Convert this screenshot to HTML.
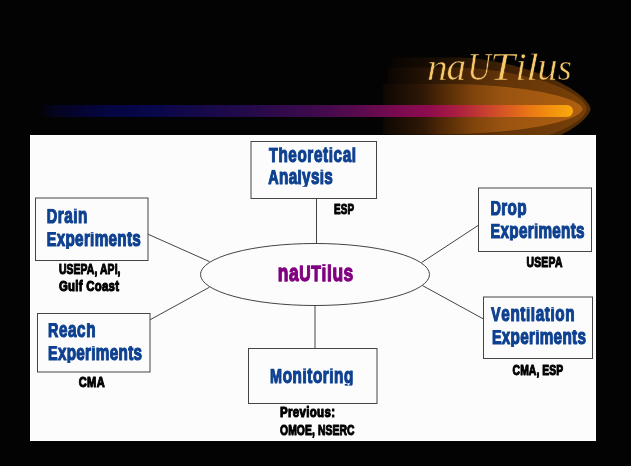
<!DOCTYPE html>
<html><head><meta charset="utf-8">
<style>
html,body{margin:0;padding:0;background:#030303;width:631px;height:466px;overflow:hidden;}
svg{position:absolute;left:0;top:0;display:block;will-change:transform;}
text{font-family:"Liberation Sans",sans-serif;font-weight:bold;}
text.ttl{font-family:"Liberation Serif",serif;font-style:italic;font-weight:normal;}
</style></head>
<body>
<svg width="631" height="466" viewBox="0 0 631 466">
<defs>
<linearGradient id="bar" gradientUnits="userSpaceOnUse" x1="38" y1="0" x2="573" y2="0"><stop offset="0.0000" stop-color="#030303"/><stop offset="0.0318" stop-color="#040420"/><stop offset="0.0785" stop-color="#040432"/><stop offset="0.1346" stop-color="#050542"/><stop offset="0.2093" stop-color="#07074a"/><stop offset="0.2654" stop-color="#100848"/><stop offset="0.3215" stop-color="#18094a"/><stop offset="0.4150" stop-color="#280a4a"/><stop offset="0.5084" stop-color="#3c0a4c"/><stop offset="0.6019" stop-color="#5a0a4e"/><stop offset="0.6766" stop-color="#7c0a50"/><stop offset="0.7327" stop-color="#8e0c4e"/><stop offset="0.7701" stop-color="#a41844"/><stop offset="0.8075" stop-color="#b82c38"/><stop offset="0.8449" stop-color="#cc462c"/><stop offset="0.8822" stop-color="#dc5e20"/><stop offset="0.9196" stop-color="#ea7814"/><stop offset="0.9570" stop-color="#f29010"/><stop offset="1.0000" stop-color="#f8aa0c"/></linearGradient>
<linearGradient id="g0" gradientUnits="userSpaceOnUse" x1="383" y1="0" x2="585" y2="0"><stop offset="0" stop-color="#050302"/><stop offset="0.3" stop-color="#1c0f03"/><stop offset="0.45" stop-color="#2e1804"/><stop offset="0.6" stop-color="#3e2005"/><stop offset="0.8" stop-color="#4c2806"/><stop offset="1" stop-color="#562e06"/></linearGradient><linearGradient id="g1" gradientUnits="userSpaceOnUse" x1="383" y1="0" x2="585" y2="0"><stop offset="0" stop-color="#070402"/><stop offset="0.2" stop-color="#241204"/><stop offset="0.3" stop-color="#361c05"/><stop offset="0.45" stop-color="#502a07"/><stop offset="0.6" stop-color="#643408"/><stop offset="1" stop-color="#784008"/></linearGradient><linearGradient id="g2" gradientUnits="userSpaceOnUse" x1="383" y1="0" x2="585" y2="0"><stop offset="0" stop-color="#0c0703"/><stop offset="0.2" stop-color="#301806"/><stop offset="0.3" stop-color="#522a07"/><stop offset="0.45" stop-color="#80440b"/><stop offset="0.6" stop-color="#9a5410"/><stop offset="1" stop-color="#b06010"/></linearGradient>
<clipPath id="dc"><rect x="264.0" y="147.30" width="97.0" height="17.00"/><rect x="263.3" y="169.70" width="74.5" height="17.00"/><rect x="41.8" y="208.80" width="50.5" height="17.00"/><rect x="41.8" y="231.90" width="104.0" height="17.00"/><rect x="43.0" y="323.00" width="57.5" height="17.00"/><rect x="43.0" y="345.90" width="104.0" height="17.00"/><rect x="485.6" y="200.70" width="46.0" height="17.00"/><rect x="485.6" y="223.60" width="104.0" height="17.00"/><rect x="486.1" y="307.00" width="93.5" height="17.00"/><rect x="486.9" y="329.90" width="104.0" height="17.00"/><rect x="265.1" y="368.40" width="93.2" height="17.00"/><rect x="272.8" y="264.30" width="85.5" height="18.80"/></clipPath>
</defs>
<path d="M392.0,57.5 L461.0,57.5 L463.2,57.5 L466.3,57.7 L469.8,57.9 L473.6,58.3 L477.6,58.7 L481.8,59.3 L486.1,59.9 L490.6,60.7 L495.1,61.5 L499.7,62.4 L504.3,63.4 L509.0,64.5 L513.6,65.6 L518.2,66.9 L522.8,68.2 L527.4,69.6 L531.8,71.0 L536.2,72.5 L540.5,74.1 L544.7,75.7 L548.8,77.4 L552.8,79.1 L556.6,80.8 L560.2,82.6 L563.7,84.4 L567.0,86.2 L570.1,88.1 L573.0,89.9 L575.7,91.8 L578.2,93.6 L580.5,95.4 L582.6,97.2 L584.4,99.0 L586.0,100.7 L587.4,102.4 L588.5,104.0 L589.4,105.5 L590.0,106.9 L590.4,108.1 L590.5,109.0 L590.5,109.0 L590.4,109.9 L590.0,111.1 L589.4,112.5 L588.5,114.0 L587.4,115.6 L586.0,117.3 L584.4,119.0 L582.6,120.8 L580.5,122.6 L578.2,124.4 L575.7,126.2 L573.0,128.1 L570.1,129.9 L567.0,131.8 L563.7,133.6 L560.2,135.4 L556.6,137.2 L552.8,138.9 L548.8,140.6 L544.7,142.3 L540.5,143.9 L536.2,145.5 L531.8,147.0 L527.4,148.4 L522.8,149.8 L518.2,151.1 L513.6,152.4 L509.0,153.5 L504.3,154.6 L499.7,155.6 L495.1,156.5 L490.6,157.3 L486.1,158.1 L481.8,158.7 L477.6,159.3 L473.6,159.7 L469.8,160.1 L466.3,160.3 L463.2,160.5 L461.0,160.5 L392.0,160.5 Z" fill="url(#g0)"/><path d="M388.0,67.5 L454.0,67.5 L457.3,67.5 L461.2,67.6 L465.5,67.8 L469.9,68.1 L474.5,68.4 L479.1,68.8 L483.9,69.3 L488.6,69.8 L493.4,70.4 L498.2,71.1 L503.0,71.8 L507.7,72.6 L512.4,73.5 L517.1,74.4 L521.7,75.4 L526.2,76.4 L530.6,77.5 L534.9,78.7 L539.1,79.8 L543.2,81.1 L547.1,82.3 L550.9,83.7 L554.5,85.0 L558.0,86.4 L561.3,87.8 L564.4,89.2 L567.4,90.7 L570.1,92.2 L572.7,93.7 L575.0,95.2 L577.2,96.7 L579.1,98.2 L580.8,99.6 L582.3,101.1 L583.6,102.6 L584.6,104.0 L585.5,105.4 L586.0,106.7 L586.4,108.0 L586.5,109.0 L586.5,109.0 L586.4,110.0 L586.0,111.3 L585.5,112.6 L584.6,114.0 L583.6,115.4 L582.3,116.9 L580.8,118.4 L579.1,119.8 L577.2,121.3 L575.0,122.8 L572.7,124.3 L570.1,125.8 L567.4,127.3 L564.4,128.8 L561.3,130.2 L558.0,131.6 L554.5,133.0 L550.9,134.3 L547.1,135.7 L543.2,136.9 L539.1,138.2 L534.9,139.3 L530.6,140.5 L526.2,141.6 L521.7,142.6 L517.1,143.6 L512.4,144.5 L507.7,145.4 L503.0,146.2 L498.2,146.9 L493.4,147.6 L488.6,148.2 L483.9,148.7 L479.1,149.2 L474.5,149.6 L469.9,149.9 L465.5,150.2 L461.2,150.4 L457.3,150.5 L454.0,150.5 L388.0,150.5 Z" fill="url(#g1)"/><path d="M383.0,84.0 L449.0,84.0 L453.0,84.0 L457.4,84.1 L462.0,84.2 L466.8,84.3 L471.6,84.5 L476.5,84.7 L481.4,85.0 L486.2,85.3 L491.1,85.7 L496.0,86.1 L500.8,86.5 L505.6,86.9 L510.3,87.4 L514.9,88.0 L519.5,88.5 L523.9,89.1 L528.3,89.8 L532.5,90.4 L536.6,91.1 L540.6,91.8 L544.4,92.6 L548.1,93.4 L551.7,94.2 L555.0,95.0 L558.2,95.8 L561.3,96.7 L564.1,97.5 L566.8,98.4 L569.2,99.3 L571.5,100.2 L573.6,101.1 L575.4,102.0 L577.1,102.9 L578.5,103.9 L579.7,104.8 L580.7,105.7 L581.5,106.6 L582.1,107.4 L582.4,108.3 L582.5,109.0 L582.5,109.0 L582.4,109.7 L582.1,110.6 L581.5,111.4 L580.7,112.3 L579.7,113.2 L578.5,114.1 L577.1,115.1 L575.4,116.0 L573.6,116.9 L571.5,117.8 L569.2,118.7 L566.8,119.6 L564.1,120.5 L561.3,121.3 L558.2,122.2 L555.0,123.0 L551.7,123.8 L548.1,124.6 L544.4,125.4 L540.6,126.2 L536.6,126.9 L532.5,127.6 L528.3,128.2 L523.9,128.9 L519.5,129.5 L514.9,130.0 L510.3,130.6 L505.6,131.1 L500.8,131.5 L496.0,131.9 L491.1,132.3 L486.2,132.7 L481.4,133.0 L476.5,133.3 L471.6,133.5 L466.8,133.7 L462.0,133.8 L457.4,133.9 L453.0,134.0 L449.0,134.0 L383.0,134.0 Z" fill="url(#g2)"/>
<path d="M38 105 H567 A6 6 0 0 1 567 117 H38 Z" fill="url(#bar)"/>
<mask id="tm" maskUnits="userSpaceOnUse" x="400" y="30" width="200" height="70"><g font-size="39" fill="#fff" stroke="#000" stroke-width="0.6"><text class="ttl" transform="translate(426.92,79.6) scale(1.067,1)">n</text><text class="ttl" transform="translate(446.43,79.6) scale(1.008,1)">a</text><text class="ttl" transform="translate(467.42,79.6) scale(0.832,1)">U</text><text class="ttl" transform="translate(490.07,79.6) scale(1.147,1)">T</text><text class="ttl" transform="translate(515.60,79.6) scale(1.016,1)">i</text><text class="ttl" transform="translate(526.24,79.6) scale(1.139,1)">l</text><text class="ttl" transform="translate(537.37,79.6) scale(1.047,1)">u</text><text class="ttl" transform="translate(557.66,79.6) scale(0.917,1)">s</text></g></mask>
<rect x="400" y="30" width="200" height="70" fill="#f7c86a" mask="url(#tm)"/>
<rect x="30" y="135" width="566" height="306" fill="#ffffff"/>
<rect x="31" y="136" width="564" height="304" fill="#fcfcfc"/>
<g stroke="#444" stroke-width="1" fill="none">
<rect x="251" y="141.5" width="125.5" height="57"/>
<rect x="35.5" y="198" width="112.5" height="62.5"/>
<rect x="37.5" y="313.5" width="112.5" height="58.5"/>
<rect x="478.5" y="188" width="113" height="63.5"/>
<rect x="483.5" y="297" width="109" height="61.5"/>
<rect x="248.5" y="348.5" width="128.5" height="55"/>
<ellipse cx="315" cy="274.5" rx="114.5" ry="31"/>
<line x1="316.5" y1="198.5" x2="316.5" y2="243.5"/>
<line x1="315" y1="305.5" x2="315" y2="348.5"/>
<line x1="148" y1="234.2" x2="209.5" y2="261.6"/>
<line x1="150" y1="319.8" x2="209.5" y2="287.2"/>
<line x1="478.5" y1="225.2" x2="421.5" y2="262.6"/>
<line x1="483.5" y1="319" x2="422.5" y2="285.6"/>
</g>
<g clip-path="url(#dc)">
<g font-size="20.0" fill="#0e4190" stroke="#0e4190" stroke-width="1.2" stroke-linejoin="round">
<text transform="translate(269.0,161.7) scale(0.72,1)" textLength="120.83" lengthAdjust="spacing">T<tspan font-size="21.20">heoretical</tspan></text>
<text transform="translate(268.3,184.1) scale(0.72,1)" textLength="89.58" lengthAdjust="spacing">A<tspan font-size="21.20">nalysis</tspan></text>
<text transform="translate(46.8,223.2) scale(0.72,1)" textLength="56.25" lengthAdjust="spacing">D<tspan font-size="21.20">rain</tspan></text>
<text transform="translate(46.8,246.3) scale(0.72,1)" textLength="130.56" lengthAdjust="spacing">E<tspan font-size="21.20">xperiments</tspan></text>
<text transform="translate(48.0,337.4) scale(0.72,1)" textLength="65.97" lengthAdjust="spacing">R<tspan font-size="21.20">each</tspan></text>
<text transform="translate(48.0,360.3) scale(0.72,1)" textLength="130.56" lengthAdjust="spacing">E<tspan font-size="21.20">xperiments</tspan></text>
<text transform="translate(490.6,215.1) scale(0.72,1)" textLength="50.00" lengthAdjust="spacing">D<tspan font-size="21.20">rop</tspan></text>
<text transform="translate(490.6,238.0) scale(0.72,1)" textLength="130.56" lengthAdjust="spacing">E<tspan font-size="21.20">xperiments</tspan></text>
<text transform="translate(491.1,321.4) scale(0.72,1)" textLength="115.97" lengthAdjust="spacing">V<tspan font-size="21.20">entilation</tspan></text>
<text transform="translate(491.9,344.3) scale(0.72,1)" textLength="130.56" lengthAdjust="spacing">E<tspan font-size="21.20">xperiments</tspan></text>
<text transform="translate(270.1,382.8) scale(0.72,1)" textLength="115.56" lengthAdjust="spacing">M<tspan font-size="21.20">onitoring</tspan></text>
</g>
<g font-size="22.6" fill="#800080" stroke="#800080" stroke-width="1.3" stroke-linejoin="round">
<text transform="translate(277.8,280.5) scale(0.7,1)" textLength="107.86" lengthAdjust="spacing"><tspan font-size="24.86">na</tspan>UT<tspan font-size="24.86">ilus</tspan></text>
</g>
</g>
<g font-size="14.8" fill="#000" stroke="#000" stroke-width="1.1" stroke-linejoin="round">
<text transform="translate(334.0,213.8) scale(0.67,1)" textLength="29.85" lengthAdjust="spacing">ESP</text>
<text transform="translate(59.0,274.4) scale(0.7,1)" textLength="87.86" lengthAdjust="spacing">USEPA, API,</text>
<text transform="translate(59.0,291.3) scale(0.77,1)" textLength="77.92" lengthAdjust="spacing">Gulf Coast</text>
<text transform="translate(78.7,386.5) scale(0.75,1)" textLength="34.67" lengthAdjust="spacing">CMA</text>
<text transform="translate(526.4,266.8) scale(0.7,1)" textLength="51.43" lengthAdjust="spacing">USEPA</text>
<text transform="translate(512.6,374.7) scale(0.7,1)" textLength="72.14" lengthAdjust="spacing">CMA, ESP</text>
<text transform="translate(280.0,417.3) scale(0.78,1)" textLength="70.51" lengthAdjust="spacing">Previous:</text>
<text transform="translate(280.0,434.8) scale(0.7,1)" textLength="106.43" lengthAdjust="spacing">OMOE, NSERC</text>
</g>
</svg>
</body></html>
